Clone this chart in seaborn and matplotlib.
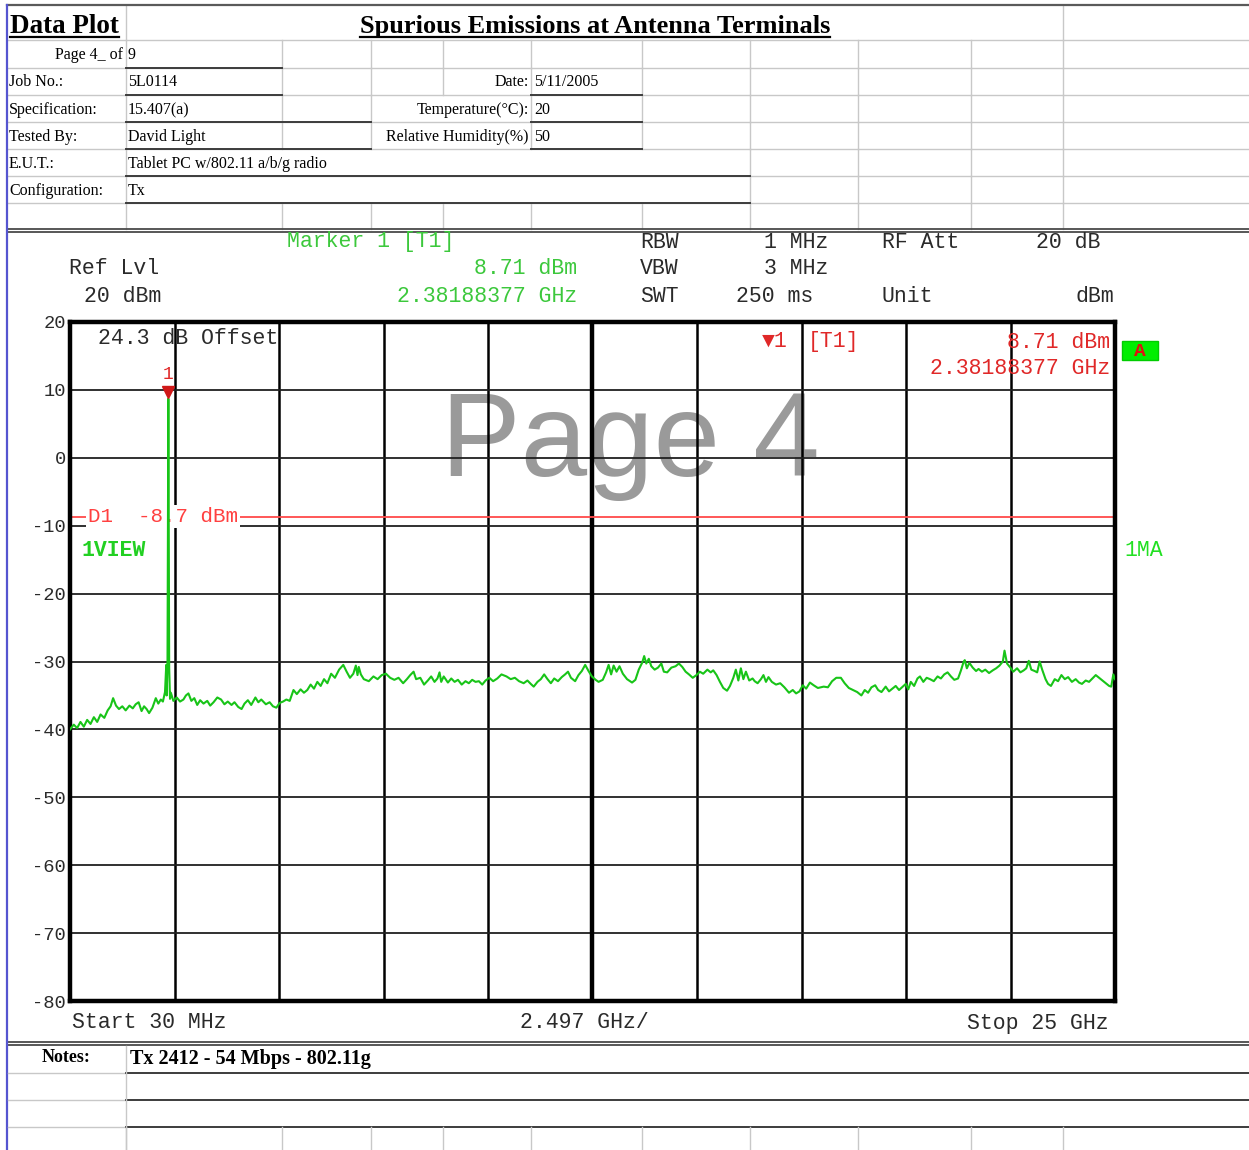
import numpy as np
import matplotlib
matplotlib.use("Agg")
import matplotlib.pyplot as plt
from matplotlib.patches import Rectangle
import seaborn as sns

# ---- trace: frequency (GHz) and level (dBm)
freq_ghz = [
    0.03, 0.12, 0.20, 0.28, 0.36, 0.44, 0.52, 0.60, 0.68, 0.76,
    0.85, 0.93, 1.00, 1.06, 1.13, 1.20, 1.28, 1.36, 1.45, 1.53,
    1.60, 1.67, 1.74, 1.80, 1.86, 1.92, 2.00, 2.08, 2.14, 2.20,
    2.25, 2.30, 2.33, 2.34, 2.36, 2.38, 2.40, 2.42, 2.44, 2.50,
    2.58, 2.66, 2.74, 2.80, 2.86, 2.93, 3.00, 3.07, 3.14, 3.22,
    3.31, 3.38, 3.46, 3.55, 3.64, 3.72, 3.80, 3.89, 3.96, 4.05,
    4.13, 4.20, 4.28, 4.36, 4.46, 4.53, 4.60, 4.71, 4.80, 4.88,
    4.96, 5.04, 5.12, 5.20, 5.28, 5.37, 5.45, 5.54, 5.62, 5.70,
    5.78, 5.86, 5.94, 6.02, 6.10, 6.18, 6.27, 6.36, 6.46, 6.56,
    6.64, 6.72, 6.80, 6.86, 6.90, 6.93, 6.98, 7.05, 7.17, 7.28,
    7.38, 7.48, 7.58, 7.68, 7.78, 7.88, 7.99, 8.08, 8.16, 8.24,
    8.30, 8.40, 8.49, 8.58, 8.66, 8.74, 8.81, 8.86, 8.90, 8.96,
    9.06, 9.14, 9.22, 9.30, 9.39, 9.48, 9.56, 9.64, 9.72, 9.80,
    9.88, 9.96, 10.05, 10.14, 10.24, 10.34, 10.46, 10.56, 10.66, 10.76,
    10.87, 10.96, 11.04, 11.11, 11.20, 11.28, 11.36, 11.44, 11.52, 11.60,
    11.69, 11.78, 11.86, 11.93, 12.00, 12.10, 12.18, 12.26, 12.34, 12.42,
    12.50, 12.59, 12.66, 12.76, 12.84, 12.90, 12.96, 13.02, 13.09, 13.16,
    13.24, 13.34, 13.46, 13.54, 13.62, 13.70, 13.75, 13.80, 13.86, 13.92,
    14.00, 14.08, 14.16, 14.22, 14.30, 14.40, 14.50, 14.58, 14.66, 14.74,
    14.82, 14.91, 15.00, 15.08, 15.16, 15.26, 15.34, 15.40, 15.48, 15.56,
    15.64, 15.73, 15.80, 15.88, 15.94, 16.00, 16.06, 16.12, 16.18, 16.26,
    16.34, 16.39, 16.46, 16.54, 16.60, 16.66, 16.72, 16.80, 16.90, 17.00,
    17.10, 17.21, 17.30, 17.38, 17.46, 17.54, 17.62, 17.71, 17.80, 17.90,
    18.04, 18.14, 18.24, 18.34, 18.45, 18.54, 18.64, 18.74, 18.84, 18.94,
    19.02, 19.10, 19.18, 19.27, 19.34, 19.42, 19.52, 19.60, 19.68, 19.76,
    19.84, 19.93, 20.00, 20.06, 20.12, 20.20, 20.28, 20.34, 20.42, 20.50,
    20.58, 20.67, 20.76, 20.84, 20.92, 21.00, 21.08, 21.16, 21.25, 21.32,
    21.38, 21.41, 21.46, 21.52, 21.60, 21.68, 21.74, 21.82, 21.90, 21.99,
    22.08, 22.16, 22.24, 22.32, 22.36, 22.42, 22.50, 22.57, 22.66, 22.74,
    22.82, 22.88, 22.94, 23.00, 23.08, 23.14, 23.20, 23.26, 23.34, 23.40,
    23.47, 23.56, 23.64, 23.72, 23.80, 23.88, 23.97, 24.06, 24.14, 24.21,
    24.30, 24.38, 24.46, 24.54, 24.62, 24.70, 24.78, 24.86, 24.91, 24.96,
    25.00,
]
level_dbm = [
    -40.0, -39.3, -39.8, -38.9, -39.6, -38.6, -39.2, -38.2, -38.9, -37.8,
    -38.3, -37.2, -36.6, -35.4, -36.5, -37.0, -36.6, -37.2, -36.5, -36.9,
    -36.3, -36.0, -37.3, -36.6, -37.0, -37.6, -36.8, -35.4, -36.2, -35.6,
    -35.9, -34.5, -30.5, -35.0, -30.0, 8.71, -31.0, -35.5, -34.6, -35.8,
    -35.3, -35.9, -35.6, -35.0, -34.7, -35.8, -35.4, -36.4, -35.7, -36.2,
    -35.8, -36.5, -36.0, -35.3, -35.6, -36.3, -35.9, -36.4, -36.0, -36.7,
    -37.0, -36.2, -35.7, -36.4, -35.3, -36.0, -35.6, -36.3, -36.0, -36.6,
    -36.8, -36.1, -35.9, -35.6, -35.8, -34.2, -34.8, -34.1, -34.6, -34.2,
    -33.4, -34.0, -33.0, -33.6, -32.6, -33.2, -31.8, -32.4, -31.2, -30.5,
    -31.5, -32.4, -31.8, -30.6, -32.0, -30.8, -31.9, -32.6, -32.9, -32.2,
    -32.6, -32.0, -31.8, -32.4, -32.7, -32.4, -33.2, -32.6, -32.0, -31.5,
    -32.6, -32.4, -33.4, -32.8, -32.2, -33.0, -32.5, -31.6, -33.0, -32.2,
    -33.1, -32.5, -33.0, -32.7, -33.4, -32.9, -33.2, -32.7, -33.0, -32.9,
    -33.4, -32.8, -32.4, -32.9, -32.5, -31.9, -32.2, -32.6, -32.4, -32.9,
    -33.2, -32.8, -33.3, -33.7, -33.0, -32.6, -31.9, -32.6, -33.2, -32.5,
    -32.9, -32.3, -31.9, -31.5, -32.4, -32.9, -32.0, -31.4, -30.5, -31.4,
    -32.2, -32.7, -33.0, -32.7, -31.6, -30.5, -31.9, -30.6, -31.5, -30.7,
    -31.8, -32.6, -33.1, -32.7, -31.2, -30.2, -29.2, -30.3, -29.6, -30.7,
    -31.2, -30.9, -30.3, -31.5, -31.6, -30.9, -30.7, -30.3, -30.8, -31.5,
    -31.9, -32.4, -32.0, -31.5, -31.8, -31.2, -31.6, -31.3, -32.0, -33.0,
    -33.9, -34.3, -33.6, -32.4, -31.2, -32.8, -31.0, -32.6, -31.5, -32.8,
    -32.5, -32.9, -33.2, -32.6, -32.0, -33.0, -32.3, -33.0, -33.4, -33.2,
    -33.8, -34.6, -34.2, -34.7, -34.4, -33.5, -34.0, -33.1, -33.5, -33.9,
    -33.7, -33.8, -32.9, -32.4, -32.4, -33.2, -33.9, -34.2, -34.5, -35.0,
    -34.2, -34.6, -33.8, -33.5, -34.2, -34.5, -33.7, -34.4, -34.0, -33.6,
    -34.2, -33.7, -33.3, -34.1, -33.0, -33.6, -32.5, -32.2, -33.0, -32.4,
    -32.6, -32.9, -32.2, -32.5, -31.9, -31.6, -32.2, -32.7, -32.5, -31.3,
    -30.1, -29.8, -31.0, -30.2, -30.9, -31.4, -31.1, -31.5, -31.2, -31.7,
    -31.3, -31.0, -30.6, -30.0, -28.4, -30.3, -30.9, -31.5, -31.0, -31.6,
    -31.3, -31.0, -29.9, -31.2, -31.4, -31.6, -30.0, -31.2, -32.6, -33.3,
    -33.6, -32.6, -32.9, -32.0, -32.6, -32.3, -33.0, -32.6, -33.1, -33.3,
    -32.8, -33.0, -32.5, -32.0, -32.4, -32.8, -33.2, -33.6, -33.7, -31.9,
    -32.6,
]

marker_freq = 2.38188377
marker_level = 8.71
display_line = -8.7
start_ghz = 0.03
span_per_div = 2.497
y_ticks = [20, 10, 0, -10, -20, -30, -40, -50, -60, -70, -80]

# header sheet values
sheet_labels = ["Job No.:", "Specification:", "Tested By:", "E.U.T.:", "Configuration:"]
sheet_values = ["5L0114", "15.407(a)", "David Light", "Tablet PC w/802.11 a/b/g radio", "Tx"]
side_labels = ["Date:", "Temperature(\u00b0C):", "Relative Humidity(%)"]
side_values = ["5/11/2005", "20", "50"]
notes = "Tx 2412 - 54 Mbps - 802.11g"

W, H = 1249, 1150
fig = plt.figure(figsize=(W / 100, H / 100), dpi=100)

serif = "Liberation Serif"
mono = ["Liberation Mono", "DejaVu Sans Mono"]
green_txt = "#3cc83c"
red_txt = "#e02828"
dark = "#2a2a2a"

# ---- chart axes (placed in pixel terms of the sheet)
ax = fig.add_axes([70 / W, 1 - 1001 / H, 1045 / W, 679 / H], zorder=1)
ax.set_facecolor("white")
sns.lineplot(x=freq_ghz, y=level_dbm, ax=ax, color="#18c418", linewidth=1.5,
             sort=False, estimator=None, zorder=3)
ax.set_xlim(start_ghz, start_ghz + 10 * span_per_div)
ax.set_ylim(-80, 20)
div_lines = start_ghz + span_per_div * np.arange(11)
ax.set_xticks(div_lines)
ax.set_yticks(y_ticks)
ax.set_yticklabels([str(v) for v in y_ticks], family=mono, fontsize=13.5, color=dark)
ax.tick_params(axis="x", length=0, labelbottom=False)
ax.tick_params(axis="y", length=0, pad=3)
ax.xaxis.grid(True, color="black", linewidth=1.8)
ax.yaxis.grid(True, color="#202020", linewidth=1.3)
ax.axvline(div_lines[5], color="black", linewidth=3.2, zorder=1.6)
for sp in ax.spines.values():
    sp.set_linewidth(3.2)
    sp.set_color("black")
ax.set_xlabel("")
ax.set_ylabel("")

# watermark sits under the graticule
ax.text(0.536, 0.773, "Page 4", transform=ax.transAxes, ha="center", va="baseline",
        fontsize=86, family="Liberation Sans", color="#9a9a9a", zorder=1)

# display line D1
ax.axhline(display_line, color="#ff4a4a", linewidth=1.3, zorder=1.8)
ax.text(0.46, display_line, "D1  -8.7 dBm", ha="left", va="center", family=mono,
        fontsize=15, color="#ff4040", zorder=1.9,
        bbox=dict(boxstyle="square,pad=0.1", fc="white", ec="none"))

# peak marker, tip resting on the peak
ax.plot([marker_freq], [marker_level + 1.0], marker="v", color="#d01818", markersize=9,
        linestyle="none", zorder=4)
ax.text(marker_freq, marker_level + 2.3, "1", ha="center", va="bottom", family=mono,
        fontsize=13, color=red_txt, zorder=4)

# ---- sheet / page overlay in pixel coordinates
page = fig.add_axes([0, 0, 1, 1], zorder=2)
page.set_xlim(0, W)
page.set_ylim(H, 0)
page.axis("off")

light = dict(color="#c8c8c8", linewidth=1.0)
darkline = dict(color="#3c3c3c", linewidth=1.4)

rows = [5, 40, 68, 95, 122, 149, 176, 203, 229]
cols = [126, 282, 371, 443, 531, 642, 750, 858, 971, 1063]
for y in rows[1:-1]:
    page.plot([8, W], [y, y], **light)
row_cols = [
    [126, 1063],
    cols,
    cols,
    [126, 282, 371, 531, 642, 750, 858, 971, 1063],
    [126, 282, 371, 531, 642, 750, 858, 971, 1063],
    [126, 750, 858, 971, 1063],
    [126, 750, 858, 971, 1063],
    cols,
]
for i, cl in enumerate(row_cols):
    for x in cl:
        page.plot([x, x], [rows[i], rows[i + 1]], **light)

# dark underlines of the filled cells
for x0, x1, y in [(126, 282, 68), (126, 282, 95), (126, 371, 122), (126, 371, 149),
                  (531, 642, 95), (531, 642, 122), (531, 642, 149),
                  (126, 750, 176), (126, 750, 203)]:
    page.plot([x0, x1], [y, y], **darkline)

# frame lines
page.plot([7, W], [5, 5], color="#5a5a5a", linewidth=1.6)
for y in [228.5, 232]:
    page.plot([7, W], [y, y], color="#4a4a4a", linewidth=1.3)
for y in [1041.5, 1045]:
    page.plot([7, W], [y, y], color="#4a4a4a", linewidth=1.3)
page.plot([7.5, 7.5], [5, H], color="#5555d0", linewidth=1.6)

# notes rows
for y in [1073, 1100, 1127]:
    page.plot([8, 126], [y, y], **light)
    page.plot([126, W], [y, y], **darkline)
page.plot([126, 126], [1046, H], **light)
for x in cols:
    page.plot([x, x], [1127, H], **light)

# title row
t1 = page.text(10, 33, "Data Plot", ha="left", va="baseline", family=serif,
               fontsize=19.5, weight="bold")
t2 = page.text(595, 33, "Spurious Emissions at Antenna Terminals", ha="center",
               va="baseline", family=serif, fontsize=19, weight="bold")
fig.canvas.draw()
inv = page.transData.inverted()
for t in (t1, t2):
    bb = t.get_window_extent()
    xa = inv.transform((bb.x0, 0))[0]
    xb = inv.transform((bb.x1, 0))[0]
    page.plot([xa, xb], [36.5, 36.5], color="black", linewidth=1.6)

sfs = 11.5
page.text(123, 55, "Page 4_ of", ha="right", va="center", family=serif, fontsize=sfs)
page.text(128, 55, "9", ha="left", va="center", family=serif, fontsize=sfs)
row_y = [82, 110, 137, 164, 191]
for y, lab, val in zip(row_y, sheet_labels, sheet_values):
    page.text(9, y, lab, ha="left", va="center", family=serif, fontsize=sfs)
    page.text(128, y, val, ha="left", va="center", family=serif, fontsize=sfs)
for y, lab, val in zip(row_y[:3], side_labels, side_values):
    page.text(529, y, lab, ha="right", va="center", family=serif, fontsize=sfs)
    page.text(534, y, val, ha="left", va="center", family=serif, fontsize=sfs)

page.text(42, 1058, "Notes:", ha="left", va="center", family=serif, fontsize=13,
          weight="bold")
page.text(130, 1059, notes, ha="left", va="center", family=serif, fontsize=14.5,
          weight="bold")

# analyzer readouts
mfs = 15.5


def readout(x, y, s, color=dark, ha="left", **kw):
    page.text(x, y, s, ha=ha, va="center", family=mono, fontsize=mfs, color=color, **kw)


readout(287, 242, "Marker 1 [T1]", green_txt)
readout(640, 242, "RBW")
readout(828, 242, "1 MHz", ha="right")
readout(882, 242, "RF Att")
readout(1100, 242, "20 dB", ha="right")
readout(69, 269, "Ref Lvl")
readout(577, 269, "8.71 dBm", green_txt, ha="right")
readout(640, 269, "VBW")
readout(828, 269, "3 MHz", ha="right")
readout(84, 297, "20 dBm")
readout(577, 297, "2.38188377 GHz", green_txt, ha="right")
readout(640, 297, "SWT")
readout(813, 297, "250 ms", ha="right")
readout(882, 297, "Unit")
readout(1114, 297, "dBm", ha="right")

readout(98, 338, "24.3 dB Offset")
readout(762, 341, "\u25bc1", red_txt)
readout(808, 342, "[T1]", red_txt)
readout(1110, 342, "8.71 dBm", red_txt, ha="right")
readout(1110, 369, "2.38188377 GHz", red_txt, ha="right")
readout(82, 551, "1VIEW", "#22d022", weight="bold")
readout(1124, 551, "1MA", "#22e022")

page.add_patch(Rectangle((1122, 341), 36, 19, facecolor="#00ee00", edgecolor="#00cc00"))
page.text(1140, 351, "A", ha="center", va="center", family=mono, fontsize=14,
          color="#e01010", weight="bold")

readout(72, 1023, "Start 30 MHz")
readout(520, 1023, "2.497 GHz/")
readout(1109, 1023, "Stop 25 GHz", ha="right")

fig.savefig("out.png", dpi=100)
